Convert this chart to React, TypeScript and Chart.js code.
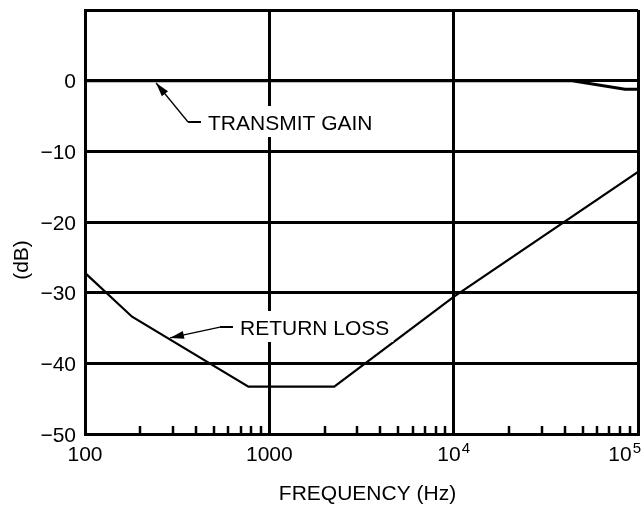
import { useEffect, useRef } from 'react';
import { Chart, registerables } from 'chart.js';

Chart.register(...registerables);

// ---- data ----
const X_MAJOR = [100, 1000, 10000, 100000];
const X_TICK_LABELS = ['100', '1000', '10^4', '10^5'];
const X_MINOR = [
  200, 300, 400, 500, 600, 700, 800, 900,
  2000, 3000, 4000, 5000, 6000, 7000, 8000, 9000,
  20000, 30000, 40000, 50000, 60000, 70000, 80000, 90000,
];
const Y_TICKS = [10, 0, -10, -20, -30, -40, -50];
const Y_TICK_LABELS = ['', '0', '\u221210', '\u221220', '\u221230', '\u221240', '\u221250'];

const RETURN_LOSS_FREQ = [100, 180, 770, 2250, 10000, 100000];
const RETURN_LOSS_DB = [-27.2, -33.4, -43.3, -43.3, -30.6, -12.9];

const TRANSMIT_GAIN_FREQ = [100, 44000, 85000, 100000];
const TRANSMIT_GAIN_DB = [0, 0, -1.2, -1.2];

const ANNOTATION_TEXT = ['TRANSMIT GAIN', 'RETURN LOSS'];
const ANNOTATION_TIP_FREQ = [243, 289];
const ANNOTATION_TIP_DB = [-0.33, -36.4];
const ANNOTATION_TEXT_FREQ = [465, 693];
const ANNOTATION_TEXT_DB = [-5.85, -34.86];

const X_TITLE = 'FREQUENCY (Hz)';
const Y_TITLE = '(dB)';

const FONT = '"Liberation Sans", Arial, Helvetica, sans-serif';
const FS = 21;

const figurePlugin = {
  id: 'figureText',
  afterDraw(chart: any) {
    const { ctx, chartArea: a, scales } = chart;
    const x = scales.x;
    const y = scales.y;
    ctx.save();
    ctx.fillStyle = '#000';
    ctx.strokeStyle = '#000';

    // minor ticks on the bottom axis
    ctx.lineWidth = 2.5;
    X_MINOR.forEach((v) => {
      const px = Math.round(x.getPixelForValue(v));
      ctx.beginPath();
      ctx.moveTo(px, a.bottom);
      ctx.lineTo(px, a.bottom - 8);
      ctx.stroke();
    });

    // y tick labels
    ctx.font = `${FS}px ${FONT}`;
    ctx.textAlign = 'right';
    ctx.textBaseline = 'alphabetic';
    Y_TICKS.forEach((v, i) => {
      const lab = Y_TICK_LABELS[i];
      if (!lab) return;
      ctx.fillText(lab, a.left - 9, y.getPixelForValue(v) + 7.5);
    });

    // x tick labels (with superscript exponents)
    ctx.textAlign = 'left';
    X_MAJOR.forEach((v, i) => {
      const [base, exp] = X_TICK_LABELS[i].split('^');
      ctx.font = `${FS}px ${FONT}`;
      const wb = ctx.measureText(base).width;
      ctx.font = `15px ${FONT}`;
      const we = exp ? ctx.measureText(exp).width + 1 : 0;
      const total = wb + we;
      let left = x.getPixelForValue(v) - total / 2;
      if (left + total > chart.width) left = chart.width - total;
      if (left < 0) left = 0;
      ctx.font = `${FS}px ${FONT}`;
      ctx.fillText(base, left, a.bottom + 27);
      if (exp) {
        ctx.font = `15px ${FONT}`;
        ctx.fillText(exp, left + wb + 1, a.bottom + 19);
      }
    });

    // axis titles
    ctx.font = `${FS}px ${FONT}`;
    ctx.textAlign = 'center';
    ctx.fillText(X_TITLE, (a.left + a.right) / 2 + 6, a.bottom + 66);
    ctx.save();
    ctx.translate(28, a.top + 250);
    ctx.rotate(-Math.PI / 2);
    ctx.fillText(Y_TITLE, 0, 0);
    ctx.restore();

    // annotations with leader arrows
    ANNOTATION_TEXT.forEach((text, i) => {
      const tipX = x.getPixelForValue(ANNOTATION_TIP_FREQ[i]);
      const tipY = y.getPixelForValue(ANNOTATION_TIP_DB[i]);
      const tx = x.getPixelForValue(ANNOTATION_TEXT_FREQ[i]);
      const ty = y.getPixelForValue(ANNOTATION_TEXT_DB[i]);
      ctx.font = `${FS}px ${FONT}`;
      const w = ctx.measureText(text).width;
      ctx.fillStyle = '#fff';
      ctx.fillRect(tx - 4, ty - 16, w + 8, 31);
      ctx.fillStyle = '#000';
      ctx.textAlign = 'left';
      ctx.fillText(text, tx, ty + 7.5);

      const ex = tx - 20;
      const ey = ty;
      ctx.lineWidth = 2;
      ctx.beginPath();
      ctx.moveTo(ex, ey);
      ctx.lineTo(tx - 7, ey);
      ctx.stroke();
      ctx.lineWidth = 1.3;
      ctx.beginPath();
      ctx.moveTo(ex, ey);
      ctx.lineTo(tipX, tipY);
      ctx.stroke();
      // arrow head
      const ang = Math.atan2(tipY - ey, tipX - ex);
      const len = 14;
      const hw = 4;
      const bx = tipX - len * Math.cos(ang);
      const by = tipY - len * Math.sin(ang);
      ctx.beginPath();
      ctx.moveTo(tipX, tipY);
      ctx.lineTo(bx + hw * Math.sin(ang), by - hw * Math.cos(ang));
      ctx.lineTo(bx - hw * Math.sin(ang), by + hw * Math.cos(ang));
      ctx.closePath();
      ctx.fill();
    });

    ctx.restore();
  },
};

export default function App() {
  const ref = useRef<HTMLCanvasElement>(null);

  useEffect(() => {
    document.body.style.margin = '0';
    const canvas = ref.current;
    if (!canvas) return;
    const chart = new Chart(canvas, {
      type: 'line',
      data: {
        datasets: [
          {
            label: 'RETURN LOSS',
            data: RETURN_LOSS_FREQ.map((f, i) => ({ x: f, y: RETURN_LOSS_DB[i] })),
            borderColor: '#000',
            borderWidth: 2.2,
            pointRadius: 0,
            tension: 0,
            fill: false,
          },
          {
            label: 'TRANSMIT GAIN',
            data: TRANSMIT_GAIN_FREQ.map((f, i) => ({ x: f, y: TRANSMIT_GAIN_DB[i] })),
            borderColor: '#000',
            borderWidth: 3,
            pointRadius: 0,
            tension: 0,
            fill: false,
          },
        ],
      },
      options: {
        animation: false,
        responsive: false,
        events: [],
        layout: { padding: { left: 85, right: 3, top: 10, bottom: 71 } },
        plugins: {
          legend: { display: false },
          tooltip: { enabled: false },
          title: { display: false },
        },
        scales: {
          x: {
            type: 'logarithmic',
            min: 100,
            max: 100000,
            afterBuildTicks: (s: any) => {
              s.ticks = X_MAJOR.map((v) => ({ value: v }));
            },
            ticks: { display: false },
            grid: { color: '#000', lineWidth: 3, drawTicks: false },
            border: { display: true, color: '#000', width: 3 },
          },
          y: {
            type: 'linear',
            min: -50,
            max: 10,
            afterBuildTicks: (s: any) => {
              s.ticks = Y_TICKS.map((v) => ({ value: v }));
            },
            ticks: { display: false },
            grid: { color: '#000', lineWidth: 3, drawTicks: false },
            border: { display: true, color: '#000', width: 3 },
          },
        },
      } as any,
      plugins: [figurePlugin],
    });
    return () => chart.destroy();
  }, []);

  return (
    <div style={{ width: 641, height: 505, background: '#fff' }}>
      <canvas
        ref={ref}
        width={641}
        height={505}
        style={{ width: '641px', height: '505px', display: 'block' }}
      />
    </div>
  );
}
